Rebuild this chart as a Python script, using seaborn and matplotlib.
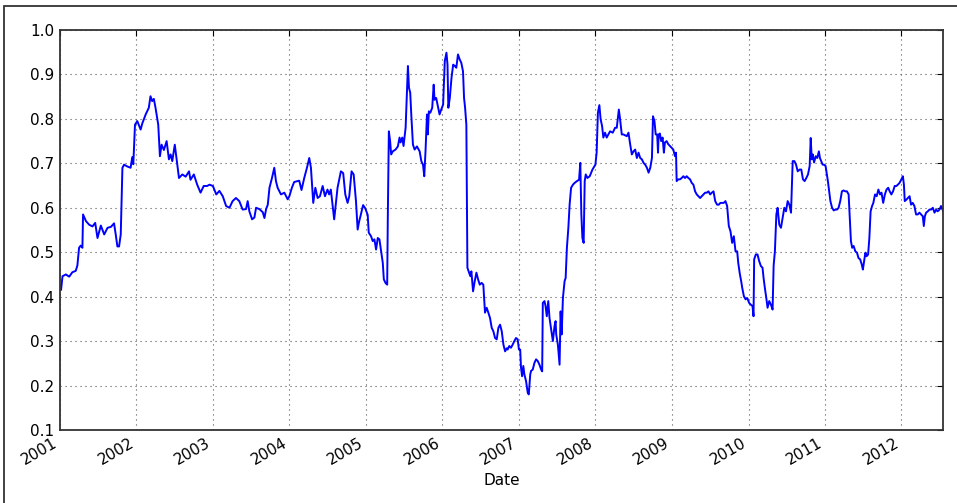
import matplotlib
matplotlib.use("Agg")
import matplotlib.pyplot as plt
import matplotlib.dates as mdates
from matplotlib.patches import Rectangle
import pandas as pd
import seaborn as sns

# Rolling correlation series (date, value)
dates = [
    "2001-01-01", "2001-01-06", "2001-01-13", "2001-01-29", "2001-02-14", "2001-03-01",
    "2001-03-17", "2001-03-25", "2001-04-02", "2001-04-10", "2001-04-18", "2001-04-21",
    "2001-05-05", "2001-05-20", "2001-06-05", "2001-06-18", "2001-06-29", "2001-07-15",
    "2001-07-31", "2001-08-16", "2001-09-01", "2001-09-16", "2001-09-24", "2001-10-02",
    "2001-10-10", "2001-10-18", "2001-10-26", "2001-11-03", "2001-11-18", "2001-12-04",
    "2001-12-12", "2001-12-17", "2001-12-25",
    "2002-01-05", "2002-01-21", "2002-01-29", "2002-02-14", "2002-03-01", "2002-03-09",
    "2002-03-17", "2002-03-25", "2002-04-02", "2002-04-15", "2002-04-23", "2002-05-01",
    "2002-05-12", "2002-05-25", "2002-06-05", "2002-06-13", "2002-06-21", "2002-07-03",
    "2002-07-15", "2002-07-23", "2002-08-08", "2002-08-24", "2002-09-09", "2002-09-16",
    "2002-10-02", "2002-10-18", "2002-11-03", "2002-11-18", "2002-12-04", "2002-12-16",
    "2003-01-01", "2003-01-17", "2003-02-01", "2003-02-17", "2003-03-05", "2003-03-21",
    "2003-04-05", "2003-04-21", "2003-05-07", "2003-05-23", "2003-06-08", "2003-06-16",
    "2003-06-24", "2003-07-07", "2003-07-18", "2003-07-26", "2003-08-11", "2003-08-27",
    "2003-09-04", "2003-09-12", "2003-09-20", "2003-09-28", "2003-10-10", "2003-10-21",
    "2003-10-29", "2003-11-06", "2003-11-22", "2003-12-08", "2003-12-24",
    "2004-01-01", "2004-01-13", "2004-01-24", "2004-02-09", "2004-02-17", "2004-02-28",
    "2004-03-12", "2004-03-25", "2004-04-05", "2004-04-13", "2004-04-24", "2004-05-04",
    "2004-05-15", "2004-05-26", "2004-06-08", "2004-06-19", "2004-07-01", "2004-07-09",
    "2004-07-17", "2004-08-02", "2004-08-18", "2004-09-03", "2004-09-14", "2004-09-24",
    "2004-10-05", "2004-10-13", "2004-10-24", "2004-11-03", "2004-11-14", "2004-11-22",
    "2004-11-29", "2004-12-07", "2004-12-18", "2004-12-28",
    "2005-01-09", "2005-01-14", "2005-01-25", "2005-02-02", "2005-02-10", "2005-02-18",
    "2005-02-26", "2005-03-06", "2005-03-14", "2005-03-22", "2005-03-27", "2005-04-04",
    "2005-04-12", "2005-04-15", "2005-04-20", "2005-04-26", "2005-05-01", "2005-05-09",
    "2005-05-22", "2005-06-02", "2005-06-10", "2005-06-15", "2005-06-23", "2005-06-29",
    "2005-07-09", "2005-07-15", "2005-07-20", "2005-07-25", "2005-07-31", "2005-08-05",
    "2005-08-13", "2005-08-21", "2005-09-01", "2005-09-14", "2005-09-22", "2005-09-30",
    "2005-10-06", "2005-10-12", "2005-10-19", "2005-10-23", "2005-10-28", "2005-11-04",
    "2005-11-13", "2005-11-20", "2005-11-24", "2005-12-02", "2005-12-10", "2005-12-18",
    "2005-12-26",
    "2006-01-04", "2006-01-12", "2006-01-20", "2006-01-25", "2006-01-29", "2006-02-05",
    "2006-02-13", "2006-02-21", "2006-03-01", "2006-03-08", "2006-03-16", "2006-03-24",
    "2006-04-01", "2006-04-09", "2006-04-14", "2006-04-19", "2006-04-25", "2006-04-30",
    "2006-05-06", "2006-05-14", "2006-05-19", "2006-05-27", "2006-06-04", "2006-06-12",
    "2006-06-20", "2006-06-28", "2006-07-07", "2006-07-15", "2006-07-23", "2006-07-31",
    "2006-08-08", "2006-08-16", "2006-08-24", "2006-09-01", "2006-09-09", "2006-09-17",
    "2006-09-25", "2006-10-03", "2006-10-11", "2006-10-19", "2006-10-27", "2006-11-04",
    "2006-11-08", "2006-11-16", "2006-11-24", "2006-12-02", "2006-12-10", "2006-12-18",
    "2006-12-26",
    "2007-01-01", "2007-01-07", "2007-01-11", "2007-01-16", "2007-01-22", "2007-01-27",
    "2007-02-04", "2007-02-12", "2007-02-17", "2007-02-24", "2007-02-28", "2007-03-08",
    "2007-03-16", "2007-03-24", "2007-04-01", "2007-04-09", "2007-04-17", "2007-04-22",
    "2007-04-25", "2007-05-03", "2007-05-08", "2007-05-14", "2007-05-21", "2007-05-27",
    "2007-06-04", "2007-06-12", "2007-06-20", "2007-06-25", "2007-06-28", "2007-07-06",
    "2007-07-14", "2007-07-19", "2007-07-24", "2007-07-30", "2007-08-07", "2007-08-12",
    "2007-08-18", "2007-08-25", "2007-08-31", "2007-09-07", "2007-09-16", "2007-09-24",
    "2007-10-05", "2007-10-15", "2007-10-21", "2007-10-26", "2007-10-31", "2007-11-06",
    "2007-11-11", "2007-11-16", "2007-11-24", "2007-12-05", "2007-12-18",
    "2008-01-01", "2008-01-07", "2008-01-13", "2008-01-20", "2008-01-26", "2008-02-02",
    "2008-02-08", "2008-02-16", "2008-02-24", "2008-03-03", "2008-03-11", "2008-03-24",
    "2008-04-04", "2008-04-12", "2008-04-22", "2008-04-28", "2008-05-06", "2008-05-14",
    "2008-05-30", "2008-06-07", "2008-06-15", "2008-06-23", "2008-07-01", "2008-07-09",
    "2008-07-17", "2008-07-25", "2008-08-02", "2008-08-10", "2008-08-18", "2008-08-26",
    "2008-09-03", "2008-09-11", "2008-09-19", "2008-09-27", "2008-10-02", "2008-10-09",
    "2008-10-15", "2008-10-22", "2008-10-26", "2008-10-29", "2008-11-04", "2008-11-10",
    "2008-11-17", "2008-11-23", "2008-11-28", "2008-12-06", "2008-12-14", "2008-12-22",
    "2008-12-30",
    "2009-01-07", "2009-01-15", "2009-01-20", "2009-01-23", "2009-01-31", "2009-02-08",
    "2009-02-16", "2009-02-24", "2009-03-04", "2009-03-12", "2009-03-20", "2009-03-28",
    "2009-04-05", "2009-04-13", "2009-04-21", "2009-04-29", "2009-05-07", "2009-05-15",
    "2009-05-23", "2009-05-31", "2009-06-08", "2009-06-16", "2009-06-24", "2009-07-02",
    "2009-07-10", "2009-07-18", "2009-07-26", "2009-08-04", "2009-08-12", "2009-08-20",
    "2009-08-28", "2009-09-05", "2009-09-13", "2009-09-21", "2009-09-29", "2009-10-07",
    "2009-10-15", "2009-10-23", "2009-10-31", "2009-11-08", "2009-11-13", "2009-11-21",
    "2009-11-27", "2009-12-02", "2009-12-10", "2009-12-18", "2009-12-26",
    "2010-01-04", "2010-01-12", "2010-01-20", "2010-01-25", "2010-01-28", "2010-02-05",
    "2010-02-13", "2010-02-21", "2010-03-01", "2010-03-09", "2010-03-14", "2010-03-20",
    "2010-03-27", "2010-04-02", "2010-04-10", "2010-04-18", "2010-04-26", "2010-05-01",
    "2010-05-07", "2010-05-14", "2010-05-20", "2010-05-28", "2010-06-05", "2010-06-13",
    "2010-06-21", "2010-06-29", "2010-07-07", "2010-07-15", "2010-07-23", "2010-07-31",
    "2010-08-08", "2010-08-16", "2010-08-24", "2010-09-02", "2010-09-10", "2010-09-18",
    "2010-09-26", "2010-10-04", "2010-10-12", "2010-10-20", "2010-10-25", "2010-10-30",
    "2010-11-04", "2010-11-10", "2010-11-18", "2010-11-25", "2010-12-03", "2010-12-08",
    "2010-12-14", "2010-12-21", "2010-12-27",
    "2011-01-04", "2011-01-08", "2011-01-15", "2011-01-21", "2011-01-27", "2011-02-04",
    "2011-02-12", "2011-02-20", "2011-02-28", "2011-03-07", "2011-03-15", "2011-03-23",
    "2011-03-31", "2011-04-08", "2011-04-16", "2011-04-24", "2011-04-29", "2011-05-05",
    "2011-05-11", "2011-05-18", "2011-05-26", "2011-06-03", "2011-06-10", "2011-06-18",
    "2011-06-26", "2011-07-01", "2011-07-07", "2011-07-13", "2011-07-19", "2011-07-26",
    "2011-08-01", "2011-08-07", "2011-08-14", "2011-08-20", "2011-08-28", "2011-09-05",
    "2011-09-13", "2011-09-21", "2011-09-28", "2011-10-06", "2011-10-14", "2011-10-22",
    "2011-10-30", "2011-11-06", "2011-11-14", "2011-11-22", "2011-11-30", "2011-12-08",
    "2011-12-15", "2011-12-23",
    "2012-01-01", "2012-01-08", "2012-01-13", "2012-01-17", "2012-01-24", "2012-02-01",
    "2012-02-09", "2012-02-16", "2012-02-24", "2012-03-03", "2012-03-11", "2012-03-19",
    "2012-03-27", "2012-04-04", "2012-04-12", "2012-04-17", "2012-04-22", "2012-04-28",
    "2012-05-06", "2012-05-14", "2012-05-22", "2012-05-30", "2012-06-07", "2012-06-15",
    "2012-06-22", "2012-07-01", "2012-07-08", "2012-07-19",
]

corr = [
    0.427, 0.415, 0.446, 0.450, 0.445, 0.455,
    0.458, 0.470, 0.510, 0.515, 0.510, 0.585,
    0.570, 0.562, 0.558, 0.566, 0.532, 0.560,
    0.540, 0.555, 0.557, 0.565, 0.540, 0.513,
    0.513, 0.540, 0.690, 0.697, 0.693, 0.690,
    0.714, 0.698, 0.787,
    0.795, 0.776, 0.790, 0.810, 0.825, 0.851,
    0.840, 0.845, 0.825, 0.787, 0.716, 0.742,
    0.730, 0.750, 0.709, 0.720, 0.705, 0.742,
    0.698, 0.667, 0.675, 0.670, 0.682, 0.663,
    0.675, 0.652, 0.634, 0.649, 0.649, 0.652,
    0.649, 0.630, 0.638, 0.626, 0.604, 0.600,
    0.615, 0.622, 0.615, 0.596, 0.597, 0.615,
    0.592, 0.574, 0.578, 0.600, 0.597, 0.590,
    0.577, 0.597, 0.607, 0.645, 0.667, 0.690,
    0.660, 0.645, 0.630, 0.634, 0.619,
    0.626, 0.645, 0.658, 0.660, 0.661, 0.640,
    0.667, 0.690, 0.712, 0.690, 0.611, 0.645,
    0.622, 0.626, 0.649, 0.626, 0.641, 0.630,
    0.641, 0.574, 0.645, 0.682, 0.678, 0.630,
    0.611, 0.626, 0.682, 0.675, 0.615, 0.551,
    0.569, 0.584, 0.606, 0.599,
    0.584, 0.544, 0.536, 0.525, 0.529, 0.506,
    0.532, 0.529, 0.502, 0.476, 0.439, 0.431,
    0.427, 0.578, 0.772, 0.750, 0.720, 0.727,
    0.731, 0.738, 0.758, 0.747, 0.758, 0.739,
    0.780, 0.855, 0.919, 0.870, 0.859, 0.810,
    0.742, 0.731, 0.738, 0.727, 0.705, 0.697,
    0.671, 0.727, 0.810, 0.765, 0.817, 0.814,
    0.825, 0.877, 0.843, 0.847, 0.828, 0.810,
    0.821,
    0.832, 0.930, 0.949, 0.922, 0.825, 0.847,
    0.892, 0.922, 0.919, 0.915, 0.945, 0.934,
    0.926, 0.907, 0.847, 0.825, 0.787, 0.465,
    0.457, 0.446, 0.457, 0.412, 0.435, 0.454,
    0.439, 0.427, 0.431, 0.427, 0.364, 0.375,
    0.364, 0.352, 0.330, 0.322, 0.307, 0.304,
    0.330, 0.337, 0.322, 0.292, 0.277, 0.284,
    0.281, 0.289, 0.285, 0.292, 0.300, 0.307,
    0.304,
    0.281, 0.281, 0.240, 0.221, 0.244, 0.225,
    0.210, 0.184, 0.180, 0.225, 0.233, 0.236,
    0.251, 0.259, 0.255, 0.247, 0.236, 0.232,
    0.386, 0.390, 0.379, 0.356, 0.390, 0.352,
    0.326, 0.300, 0.334, 0.345, 0.315, 0.292,
    0.247, 0.367, 0.315, 0.397, 0.435, 0.442,
    0.510, 0.555, 0.607, 0.645, 0.652, 0.656,
    0.660, 0.663, 0.701, 0.585, 0.532, 0.521,
    0.660, 0.675, 0.667, 0.671, 0.686,
    0.697, 0.724, 0.814, 0.831, 0.799, 0.784,
    0.758, 0.769, 0.758, 0.765, 0.772, 0.769,
    0.780, 0.780, 0.821, 0.799, 0.765, 0.765,
    0.761, 0.769, 0.743, 0.720, 0.727, 0.731,
    0.712, 0.724, 0.712, 0.709, 0.701, 0.697,
    0.690, 0.679, 0.690, 0.712, 0.806, 0.795,
    0.765, 0.765, 0.724, 0.765, 0.767, 0.750,
    0.758, 0.724, 0.747, 0.750, 0.743, 0.739,
    0.735,
    0.731, 0.716, 0.724, 0.660, 0.664, 0.664,
    0.667, 0.671, 0.667, 0.671, 0.667, 0.664,
    0.656, 0.652, 0.637, 0.630, 0.626, 0.622,
    0.626, 0.630, 0.634, 0.634, 0.637, 0.630,
    0.634, 0.637, 0.615, 0.607, 0.607, 0.611,
    0.611, 0.611, 0.615, 0.604, 0.559, 0.547,
    0.521, 0.536, 0.502, 0.502, 0.476, 0.450,
    0.435, 0.420, 0.401, 0.394, 0.397,
    0.386, 0.382, 0.379, 0.356, 0.484, 0.495,
    0.495, 0.480, 0.469, 0.465, 0.442, 0.420,
    0.397, 0.375, 0.390, 0.382, 0.371, 0.470,
    0.502, 0.585, 0.600, 0.562, 0.555, 0.577,
    0.600, 0.592, 0.615, 0.607, 0.589, 0.705,
    0.705, 0.697, 0.682, 0.686, 0.686, 0.664,
    0.660, 0.667, 0.675, 0.694, 0.757, 0.709,
    0.720, 0.702, 0.716, 0.712, 0.727, 0.712,
    0.705, 0.697, 0.697,
    0.694, 0.682, 0.660, 0.637, 0.615, 0.600,
    0.594, 0.596, 0.596, 0.600, 0.615, 0.637,
    0.639, 0.637, 0.637, 0.630, 0.581, 0.525,
    0.510, 0.514, 0.502, 0.499, 0.487, 0.484,
    0.472, 0.461, 0.480, 0.499, 0.491, 0.495,
    0.532, 0.592, 0.604, 0.611, 0.630, 0.626,
    0.641, 0.630, 0.634, 0.611, 0.630, 0.641,
    0.645, 0.637, 0.630, 0.637, 0.649, 0.649,
    0.652, 0.656,
    0.664, 0.671, 0.652, 0.615, 0.618, 0.622,
    0.626, 0.607, 0.611, 0.604, 0.585, 0.585,
    0.589, 0.585, 0.581, 0.559, 0.581, 0.589,
    0.592, 0.596, 0.596, 0.600, 0.589, 0.596,
    0.592, 0.596, 0.604, 0.592,
]

y_ticks = [0.1, 0.2, 0.3, 0.4, 0.5, 0.6, 0.7, 0.8, 0.9, 1.0]
x_start, x_end = "2001-01-01", "2012-07-19"

df = pd.DataFrame({"Date": pd.to_datetime(dates), "corr": corr})

sns.set_style("white")
plt.rcParams["font.family"] = ["DejaVu Sans"]
plt.rcParams["text.color"] = "black"
plt.rcParams["axes.labelcolor"] = "black"
plt.rcParams["xtick.labelcolor"] = "black"
plt.rcParams["ytick.labelcolor"] = "black"

fig = plt.figure(figsize=(9.57, 5.03), dpi=100)
ax = fig.add_axes([60 / 957, 1 - 430 / 503, (943.3 - 60) / 957, 400 / 503])

sns.lineplot(data=df, x="Date", y="corr", ax=ax, color="#0000ff", linewidth=1.4,
             estimator=None, sort=False)

ax.set_xlim(pd.Timestamp(x_start), pd.Timestamp(x_end))
ax.set_ylim(0.1, 1.0)
ax.set_yticks(y_ticks)
ax.set_yticklabels([f"{v:.1f}" for v in y_ticks])
ax.xaxis.set_major_locator(mdates.YearLocator())
ax.xaxis.set_major_formatter(mdates.DateFormatter("%Y"))

ax.set_xlabel("Date", fontsize=11, color="black")
ax.set_ylabel("")

ax.grid(True, color="#555555", linestyle=(0, (1, 3.5)), linewidth=0.8)
ax.tick_params(axis="both", which="major", direction="in", top=True, right=True,
               length=4, width=0.8, color="black", labelcolor="black",
               labelsize=11, pad=4)
for lbl in ax.get_xticklabels():
    lbl.set_rotation(30)
    lbl.set_ha("right")

for s in ax.spines.values():
    s.set_color("#333333")
    s.set_linewidth(1.3)

# outer frame around the figure
fig.patches.append(Rectangle((4 / 957, -0.2), 1.3, 1.2 - 5.5 / 503,
                             transform=fig.transFigure, fill=False,
                             edgecolor="#333333", linewidth=1.3))

fig.savefig("out.png", dpi=100)
